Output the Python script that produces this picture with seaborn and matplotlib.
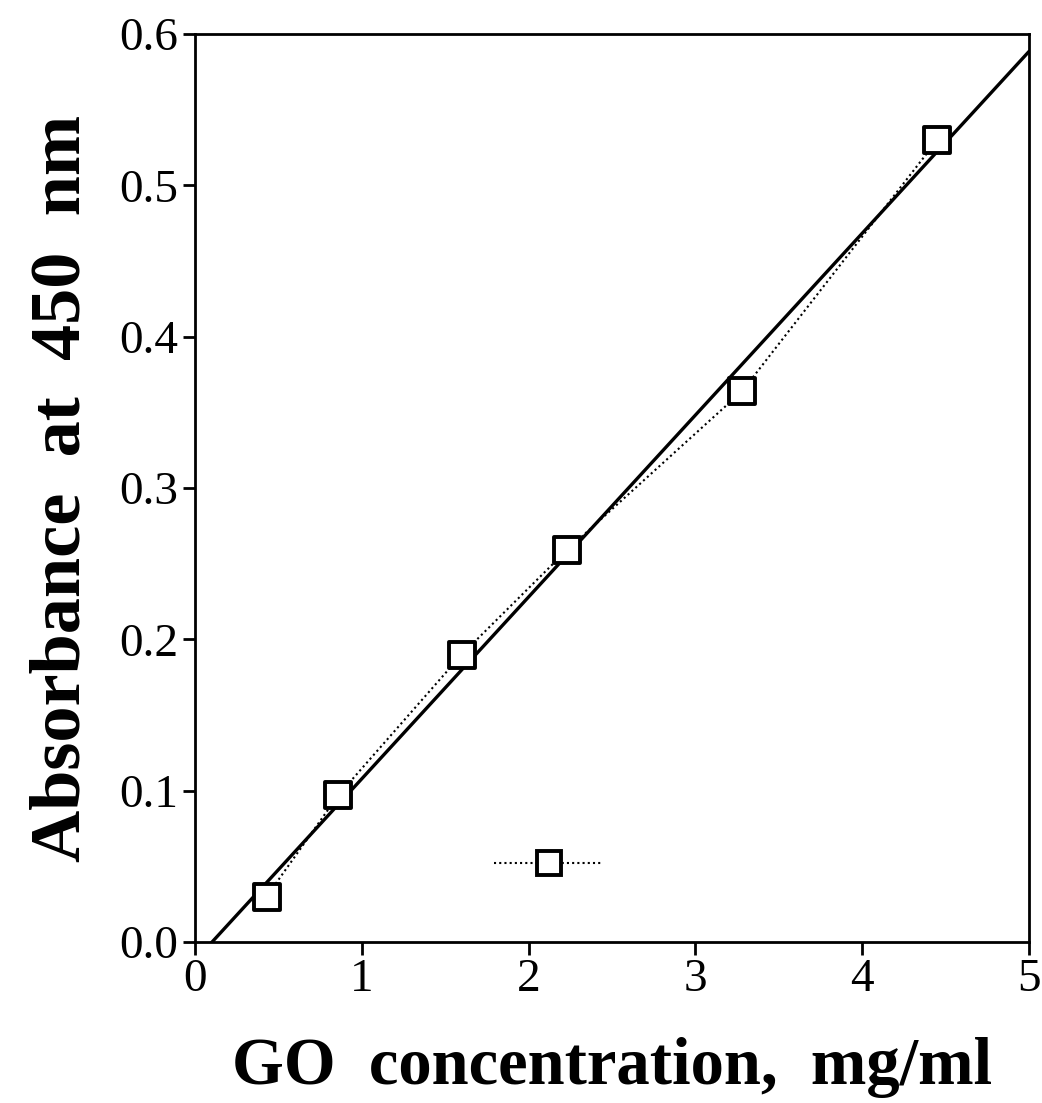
import numpy as np
import pandas as pd
import matplotlib
matplotlib.use('Agg')
import matplotlib.pyplot as plt
import seaborn as sns
from matplotlib.lines import Line2D

# values
go_conc = [0.43, 0.86, 1.60, 2.23, 3.28, 4.45]
absorbance = [0.030, 0.097, 0.190, 0.259, 0.364, 0.530]
x_ticks = [0, 1, 2, 3, 4, 5]
y_ticks = [0.0, 0.1, 0.2, 0.3, 0.4, 0.5, 0.6]

df = pd.DataFrame({'conc': go_conc, 'abs': absorbance})

sns.set_style('ticks')
plt.rcParams['font.family'] = ['Liberation Serif', 'DejaVu Serif']

fig = plt.figure(figsize=(10.42, 11.03), dpi=100)
ax = fig.add_axes([0.187, 0.146, 0.8005, 0.823])
ax.set_xlim(0, 5)
ax.set_ylim(0, 0.6)

# dotted line joining the points
sns.lineplot(data=df, x='conc', y='abs', ax=ax, color='black', lw=1.5,
             linestyle=(0, (1, 1.5)), zorder=2)

# least squares line across the full x range
sns.regplot(data=df, x='conc', y='abs', ax=ax, scatter=False, ci=None,
            truncate=False, color='black', line_kws={'lw': 2.4, 'zorder': 3})

# open square markers
sns.scatterplot(data=df, x='conc', y='abs', ax=ax, marker='s', s=340,
                facecolor='white', edgecolor='black', linewidth=2.8, zorder=4)

ax.set_xlim(0, 5)
ax.set_ylim(0, 0.6)

handle = Line2D([], [], color='black', lw=1.5, linestyle=(0, (1, 1.5)),
                marker='s', markersize=17, markerfacecolor='white',
                markeredgecolor='black', markeredgewidth=2.8)
ax.legend(handles=[handle], labels=[''], loc='center', frameon=False,
          bbox_to_anchor=(2.12, 0.049), bbox_transform=ax.transData,
          handlelength=2.7, handletextpad=0, fontsize=29, borderpad=0)

ax.set_xticks(x_ticks)
ax.set_xticklabels([str(v) for v in x_ticks])
ax.set_yticks(y_ticks)
ax.set_yticklabels([f'{v:.1f}' for v in y_ticks])
ax.tick_params(axis='both', direction='out', length=9, width=2, labelsize=34,
               pad=3, colors='black')

for side in ['top', 'right', 'bottom', 'left']:
    ax.spines[side].set_visible(True)
    ax.spines[side].set_linewidth(2)
    ax.spines[side].set_color('black')

ax.set_xlabel('GO  concentration,  mg/ml', fontsize=48, fontweight='bold',
              color='black', labelpad=26)
ax.set_ylabel('Absorbance  at  450  nm', fontsize=52, fontweight='bold',
              color='black', labelpad=18)

fig.savefig('out.png', dpi=100)
